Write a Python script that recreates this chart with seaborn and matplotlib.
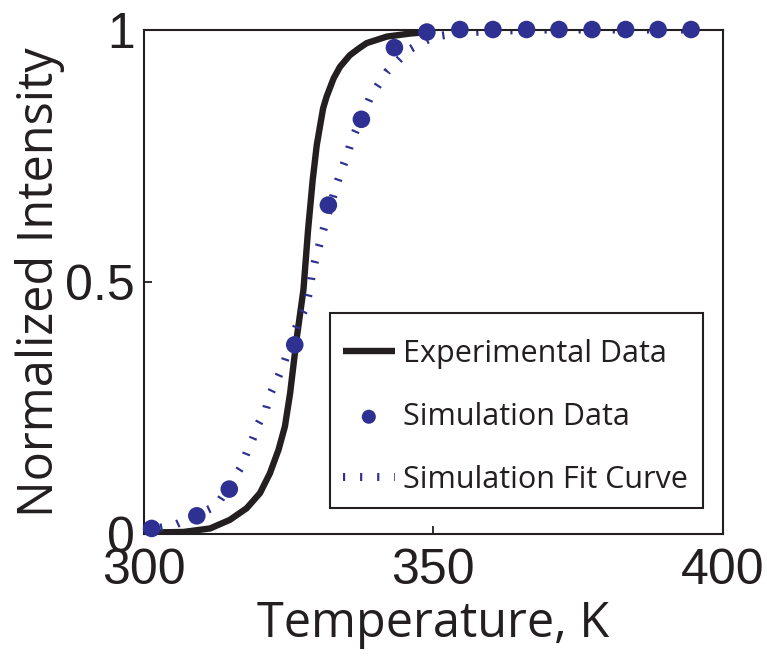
import numpy as np
import pandas as pd
import matplotlib
matplotlib.use("Agg")
import matplotlib.pyplot as plt
from matplotlib.patches import Rectangle
import seaborn as sns

# Experimental melting curve (temperature in K, normalized intensity)
exp_temp = [300.0, 301.1, 306.9, 311.5, 314.9, 317.8, 320.1, 321.8, 323.3, 324.4,
            325.3, 326.4, 327.6, 328.4, 329.2, 329.9, 330.5, 331.0, 331.6, 332.8,
            333.9, 335.6, 337.1, 338.5, 342.0, 346.0, 350.0]
exp_int = [0.002, 0.003, 0.004, 0.011, 0.028, 0.051, 0.081, 0.120, 0.167, 0.213,
           0.279, 0.385, 0.484, 0.603, 0.702, 0.771, 0.811, 0.844, 0.867, 0.903,
           0.926, 0.949, 0.962, 0.973, 0.986, 0.992, 0.996]

# Simulated points
sim_temp = [301.4, 309.2, 314.8, 326.1, 331.9, 337.6, 343.3, 348.9, 354.6, 360.3,
            366.1, 371.7, 377.4, 383.2, 388.8, 394.5]
sim_int = [0.011, 0.036, 0.089, 0.375, 0.652, 0.822, 0.964, 0.995, 1.0, 1.0,
           1.0, 1.0, 1.0, 1.0, 1.0, 1.0]

# Fit through the simulated points
fit_temp = [300.0, 305.4, 312.6, 316.8, 317.8, 318.9, 319.8, 321.1, 321.8, 323.0,
            324.1, 326.7, 327.9, 328.6, 329.0, 329.6, 330.3, 331.0, 333.3, 334.2,
            335.1, 335.9, 339.1, 340.5, 342.0, 345.7, 348.3, 350.3, 355.0, 362.0,
            370.0, 395.0]
fit_int = [0.006, 0.018, 0.056, 0.132, 0.161, 0.190, 0.218, 0.246, 0.276, 0.305,
           0.334, 0.421, 0.447, 0.480, 0.510, 0.541, 0.571, 0.601, 0.692, 0.722,
           0.750, 0.780, 0.865, 0.890, 0.916, 0.959, 0.976, 0.986, 0.994, 0.998,
           1.0, 1.0]

x_ticks = [300, 350, 400]
y_ticks = [0, 0.5, 1]
y_ticklabels = ["0", "0.5", "1"]

INK = "#231f20"
BLUE = "#2e3192"

sns.set_style("white")
plt.rcParams["font.family"] = ["Open Sans", "DejaVu Sans"]

fig = plt.figure(figsize=(7.67, 6.56), dpi=100)
ax = fig.add_axes([0.1871, 0.186, 0.7555, 0.769])

sns.lineplot(x=exp_temp, y=exp_int, ax=ax, color=INK, linewidth=4.6,
             solid_capstyle="butt", solid_joinstyle="round",
             label="Experimental Data", zorder=2)
sns.scatterplot(x=sim_temp, y=sim_int, ax=ax, color=BLUE, s=160,
                edgecolor="none", label="Simulation Data", zorder=3,
                clip_on=False)
sns.lineplot(x=fit_temp, y=fit_int, ax=ax, color=BLUE, linewidth=5.8,
             linestyle=(0, (0.27, 1.85)), dash_capstyle="butt",
             label="Simulation Fit Curve", zorder=2)

ax.set_xlim(300, 400)
ax.set_ylim(0, 1)
ax.set_xticks(x_ticks)
ax.set_yticks(y_ticks)
ax.set_yticklabels(y_ticklabels)

for lbl in ax.get_xticklabels() + ax.get_yticklabels():
    lbl.set_fontfamily(["Liberation Sans", "DejaVu Sans"])
    lbl.set_fontsize(36)
    lbl.set_color(INK)

ax.tick_params(axis="both", direction="in", length=6, width=1.3, color=INK,
               bottom=True, left=True, top=False, right=False)
ax.tick_params(axis="x", pad=10)
ax.tick_params(axis="y", pad=6)

for sp in ax.spines.values():
    sp.set_visible(True)
    sp.set_color(INK)
    sp.set_linewidth(1.5)

ax.set_xlabel("Temperature, K", fontsize=35, color=INK, labelpad=4)
ax.set_ylabel("Normalized Intensity", fontsize=35, color=INK, labelpad=0)

# legend box
ax.add_patch(Rectangle((0.322, 0.0515), 0.6437, 0.3865, transform=ax.transAxes,
                       facecolor="white", edgecolor=INK, linewidth=1.5,
                       zorder=4, clip_on=False))
leg = ax.legend(loc="upper left", bbox_to_anchor=(0.344, 0.387),
                fontsize=22, frameon=False, handlelength=1.7,
                handletextpad=0.28, labelspacing=1.08, borderpad=0,
                markerscale=0.8, borderaxespad=0)
leg.set_zorder(5)
for t in leg.get_texts():
    t.set_color(INK)

fig.savefig("out.png", dpi=100)
